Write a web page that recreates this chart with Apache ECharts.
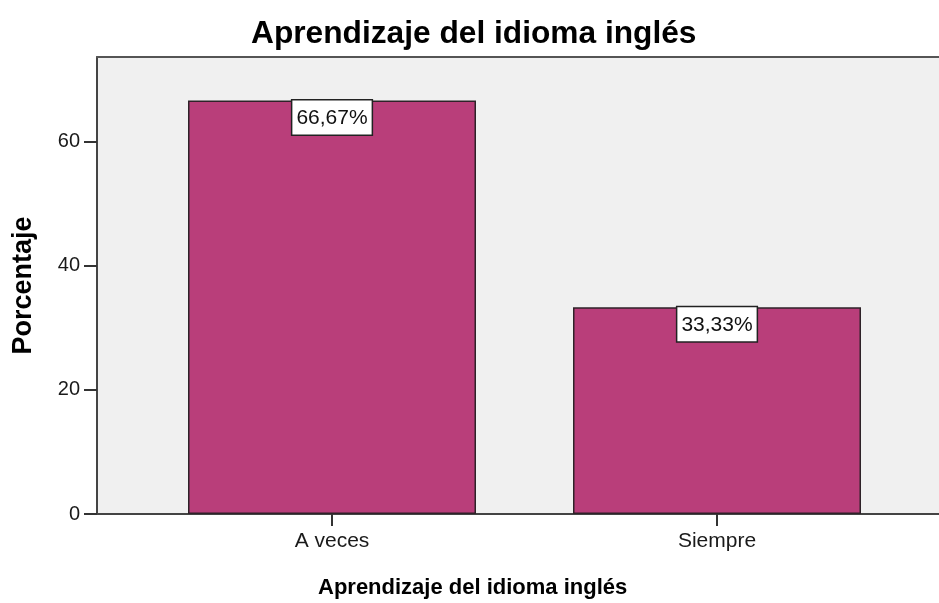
<!DOCTYPE html>
<html>
<head>
<meta charset="utf-8">
<script src="https://cdn.jsdelivr.net/npm/echarts@6/dist/echarts.min.js"></script>
<style>
html,body{margin:0;padding:0;background:#fff;}
#chart{width:939px;height:603px;}
</style>
</head>
<body>
<div id="chart"></div>
<script>
const chartTitle = 'Aprendizaje del idioma inglés';
const xAxisName = 'Aprendizaje del idioma inglés';
const yAxisName = 'Porcentaje';
const categories = ['A veces', 'Siempre'];
const values = [66.67, 33.33];
const yTicks = [0, 20, 40, 60];

const FONT = 'Liberation Sans, Arial, sans-serif';
const yMax = 73.7;

const chart = echarts.init(document.getElementById('chart'), null, {renderer: 'canvas'});
chart.setOption({
  animation: false,
  backgroundColor: '#ffffff',
  title: [
    {
      text: chartTitle, left: 246, top: 13,
      textStyle: {fontFamily: FONT, fontSize: 31.7, fontWeight: 'bold', color: '#000'}
    },
    {
      text: xAxisName, left: 313, top: 572,
      textStyle: {fontFamily: FONT, fontSize: 22, fontWeight: 'bold', color: '#000'}
    }
  ],
  grid: [
    {left: 97, top: 57, right: -30, bottom: 89, show: true, backgroundColor: '#f0f0f0', borderWidth: 0},
    {left: 139.5, top: 57, right: 29.5, bottom: 89}
  ],
  xAxis: [
    {
      gridIndex: 0, type: 'value', min: 0, max: 1, position: 'bottom',
      axisLine: {show: true, lineStyle: {color: '#444', width: 2}},
      axisTick: {show: false}, axisLabel: {show: false}, splitLine: {show: false}
    },
    {
      gridIndex: 0, type: 'value', min: 0, max: 1, position: 'top',
      axisLine: {show: true, lineStyle: {color: '#555', width: 2}},
      axisTick: {show: false}, axisLabel: {show: false}, splitLine: {show: false}
    },
    {
      gridIndex: 1, type: 'category', data: categories, position: 'bottom',
      axisLine: {show: false},
      axisTick: {show: true, alignWithLabel: true, length: 12, lineStyle: {color: '#333', width: 2}},
      axisLabel: {fontFamily: FONT, fontSize: 21, color: '#1a1a1a', margin: 17},
      splitLine: {show: false}
    }
  ],
  yAxis: [
    {
      gridIndex: 0, type: 'value', min: 0, max: yMax, interval: 20,
      name: yAxisName, nameLocation: 'middle', nameGap: 60, nameRotate: 90,
      nameTextStyle: {fontFamily: FONT, fontSize: 27, fontWeight: 'bold', color: '#000'},
      axisLine: {show: true, lineStyle: {color: '#444', width: 2}},
      axisTick: {show: true, inside: false, length: 13, lineStyle: {color: '#333', width: 2}},
      axisLabel: {
        fontFamily: FONT, fontSize: 20, color: '#1a1a1a', margin: 17,
        showMaxLabel: false,
        formatter: v => (yTicks.indexOf(v) >= 0 ? String(v) : '')
      },
      splitLine: {show: false}
    },
    {
      gridIndex: 1, type: 'value', min: 0, max: yMax, show: false
    }
  ],
  series: [{
    type: 'bar',
    xAxisIndex: 2, yAxisIndex: 1,
    data: values,
    barWidth: 288,
    itemStyle: {color: '#b93e7a', borderColor: '#2e2228', borderWidth: 1.5},
    label: {
      show: true, position: 'insideTop', distance: 0,
      formatter: p => p.value.toFixed(2).replace('.', ',') + '%',
      fontFamily: FONT, fontSize: 21, color: '#111',
      backgroundColor: '#ffffff', borderColor: '#222', borderWidth: 1.5,
      padding: [7, 4, 6, 4]
    }
  }]
});
</script>
</body>
</html>
